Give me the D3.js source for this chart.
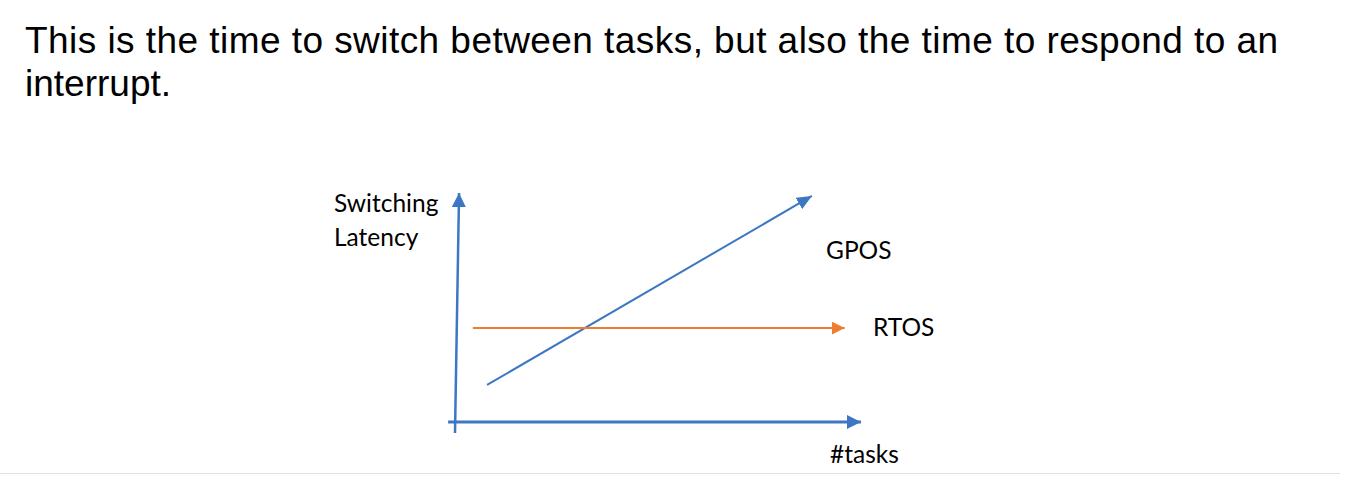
<!DOCTYPE html>
<html><head><meta charset="utf-8">
<script src="https://cdn.jsdelivr.net/npm/d3@7"></script>
<style>
html,body{margin:0;padding:0;background:#fff;}
svg{display:block;}
</style></head>
<body>
<svg id="c" width="1346" height="494"></svg>
<script>
// Conceptual data (unitless axes)
const titleLines = ["This is the time to switch between tasks, but also the time to respond to an", "interrupt."];
const seriesNames = ["GPOS", "RTOS"];
const gposPoints = [[0.79, 1.62], [8.79, 9.87]];
const rtosPoints = [[0.44, 4.10], [9.60, 4.10]];
const yAxisPoints = [[0.0, -0.48], [0.10, 10.0]];
const xAxisPoints = [[-0.17, 0], [10.0, 0]];
const axisLabels = ["Switching", "Latency", "#tasks"];

const svg = d3.select("#c");
const x = d3.scaleLinear().domain([0, 10]).range([455, 861]);
const y = d3.scaleLinear().domain([0, 10]).range([422, 193]);
const blue = "#3d77c3", orange = "#ed7d31";

const defs = svg.append("defs");
function marker(id, color, len, wid) {
  defs.append("marker").attr("id", id)
    .attr("markerUnits", "userSpaceOnUse")
    .attr("viewBox", `0 0 ${len} ${wid}`)
    .attr("markerWidth", len).attr("markerHeight", wid)
    .attr("refX", len).attr("refY", wid / 2)
    .attr("orient", "auto")
    .append("path").attr("d", `M0,0 L${len},${wid/2} L0,${wid} Z`).attr("fill", color);
}
marker("ax", blue, 14, 14);
marker("gp", blue, 15, 13);
marker("rt", orange, 13, 13);

// Title
svg.append("g").selectAll("text").data(titleLines).join("text")
  .attr("x", 25).attr("y", (d, i) => 53 + i * 43)
  .attr("font-family", "Liberation Sans, Arial, Helvetica, sans-serif")
  .attr("font-size", 37).attr("textLength", (d, i) => i === 0 ? 1253 : null)
  .attr("fill", "#000").text(d => d);

const line = d3.line().x(d => x(d[0])).y(d => y(d[1]));

svg.append("path").datum(yAxisPoints).attr("d", line)
  .attr("stroke", blue).attr("stroke-width", 2.5).attr("fill", "none").attr("marker-end", "url(#ax)");
svg.append("path").datum(xAxisPoints).attr("d", line)
  .attr("stroke", blue).attr("stroke-width", 3).attr("fill", "none").attr("marker-end", "url(#ax)");
svg.append("path").datum(gposPoints).attr("d", line)
  .attr("stroke", blue).attr("stroke-width", 2).attr("fill", "none").attr("marker-end", "url(#gp)");
svg.append("path").datum(rtosPoints).attr("d", line)
  .attr("stroke", orange).attr("stroke-width", 2).attr("fill", "none").attr("marker-end", "url(#rt)");

const lf = "Lato, 'Open Sans', sans-serif";
const fs = 24.5;
svg.append("text").attr("x", 334).attr("y", 212).attr("font-family", lf).attr("font-size", fs).text(axisLabels[0]);
svg.append("text").attr("x", 334).attr("y", 246).attr("font-family", lf).attr("font-size", fs).text(axisLabels[1]);
svg.append("text").attr("x", 830).attr("y", 463).attr("font-family", lf).attr("font-size", fs).text(axisLabels[2]);
svg.append("text").attr("x", 826).attr("y", 259).attr("font-family", lf).attr("font-size", fs).text(seriesNames[0]);
svg.append("text").attr("x", 873).attr("y", 336).attr("font-family", lf).attr("font-size", fs).text(seriesNames[1]);

// footer separator
svg.append("line").attr("x1", 0).attr("x2", 1340).attr("y1", 473.5).attr("y2", 473.5)
  .attr("stroke", "#e2e2e2").attr("stroke-width", 1);
</script>
</body></html>
